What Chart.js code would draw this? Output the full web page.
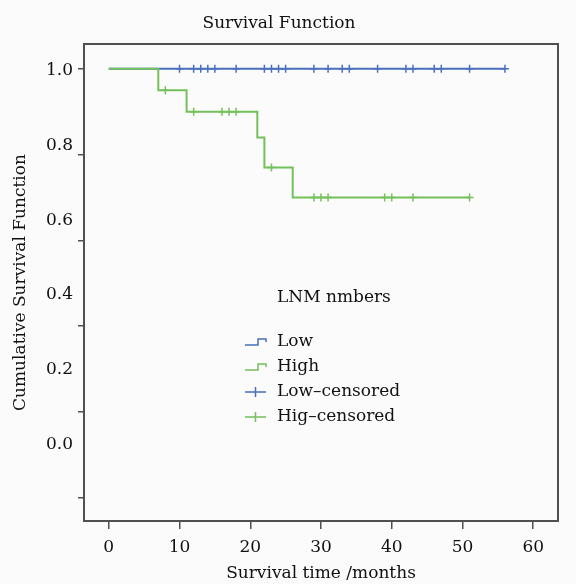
<!DOCTYPE html>
<html lang="en">
<head>
<meta charset="UTF-8">
<title>Survival Function</title>
<script src="https://cdn.jsdelivr.net/npm/chart.js"></script>
<style>
  html, body { margin: 0; padding: 0; background: #fbfbfb; }
  canvas { display: block; }
</style>
</head>
<body>
<canvas id="km" width="576" height="584"></canvas>
<script>
// Kaplan-Meier steps
const lowTimes = [0, 56];
const lowSurv = [1.0, 1.0];
const highTimes = [0, 7, 11, 21, 22, 26, 51];
const highSurv = [1.0, 0.95, 0.90, 0.84, 0.77, 0.70, 0.70];

// censored cases (the little + marks)
const lowCensorTimes = [10, 12, 13, 14, 15, 18, 22, 23, 24, 25, 29, 31, 33, 34, 38, 42, 43, 46, 47, 51, 56];
const lowCensorSurv = [1, 1, 1, 1, 1, 1, 1, 1, 1, 1, 1, 1, 1, 1, 1, 1, 1, 1, 1, 1, 1];
const highCensorTimes = [8, 12, 16, 17, 18, 23, 29, 30, 31, 39, 40, 43, 51];
const highCensorSurv = [0.95, 0.90, 0.90, 0.90, 0.90, 0.77, 0.70, 0.70, 0.70, 0.70, 0.70, 0.70, 0.70];

const xTicks = [0, 10, 20, 30, 40, 50, 60];
const yTicks = [0, 0.2, 0.4, 0.6, 0.8, 1.0];
const yTickLabels = ['0.0', '0.2', '0.4', '0.6', '0.8', '1.0'];

const legendTitle = 'LNM nmbers';
const legendLabels = ['Low', 'High', 'Low\u2013censored', 'Hig\u2013censored'];

const blue = '#4a6fbe';
const green = '#74c05a';
const ink = '#111111';
const frame = '#505050';
const FONT = '"DejaVu Serif", "Liberation Serif", serif';

Chart.defaults.font.family = FONT;
Chart.defaults.color = ink;

function pairs(xs, ys) {
    return xs.map((x, i) => ({ x: x, y: ys[i] }));
}

// box round the plot area
const framePlugin = {
    id: 'frame',
    afterDatasetsDraw(chart) {
        const { ctx, chartArea: a } = chart;
        ctx.save();
        ctx.strokeStyle = frame;
        ctx.lineWidth = 2;
        ctx.strokeRect(a.left, a.top, a.right - a.left, a.bottom - a.top);
        ctx.restore();
    }
};

// SPSS style legend sitting inside the plot
const legendPlugin = {
    id: 'kmLegend',
    afterDraw(chart) {
        const { ctx, chartArea: a } = chart;
        const x0 = a.left + 161;
        const textX = x0 + 32;
        const colors = [blue, green, blue, green];
        ctx.save();
        ctx.font = '17px ' + FONT;
        ctx.fillStyle = ink;
        ctx.textBaseline = 'middle';
        ctx.fillText(legendTitle, textX, a.top + 254);
        legendLabels.forEach((label, i) => {
            const y = a.top + 298 + i * 25;
            ctx.strokeStyle = colors[i];
            ctx.lineWidth = 1.5;
            ctx.beginPath();
            if (i < 2) {
                ctx.moveTo(x0, y + 3);
                ctx.lineTo(x0 + 13, y + 3);
                ctx.lineTo(x0 + 13, y - 3);
                ctx.lineTo(x0 + 21, y - 3);
                ctx.lineTo(x0 + 21, y);
            } else {
                ctx.moveTo(x0, y);
                ctx.lineTo(x0 + 21, y);
                ctx.moveTo(x0 + 10.5, y - 5);
                ctx.lineTo(x0 + 10.5, y + 5);
            }
            ctx.stroke();
            ctx.fillText(label, textX, y);
        });
        ctx.restore();
    }
};

new Chart(document.getElementById('km'), {
    type: 'scatter',
    data: {
        datasets: [
            {
                label: 'High',
                data: pairs(highTimes, highSurv),
                showLine: true,
                stepped: true,
                borderColor: green,
                borderWidth: 2,
                pointRadius: 0,
                order: 1
            },
            {
                label: 'Low',
                data: pairs(lowTimes, lowSurv),
                showLine: true,
                stepped: true,
                borderColor: blue,
                borderWidth: 2,
                pointRadius: 0,
                order: 3
            },
            {
                label: 'Low-censored',
                data: pairs(lowCensorTimes, lowCensorSurv),
                showLine: false,
                pointStyle: 'cross',
                pointRadius: 4,
                borderColor: blue,
                borderWidth: 1.5,
                order: 2
            },
            {
                label: 'Hig-censored',
                data: pairs(highCensorTimes, highCensorSurv),
                showLine: false,
                pointStyle: 'cross',
                pointRadius: 4,
                borderColor: green,
                borderWidth: 1.5,
                order: 0
            }
        ]
    },
    options: {
        responsive: false,
        animation: false,
        layout: { padding: { left: 0, right: 18, top: 0, bottom: 0 } },
        plugins: {
            legend: { display: false },
            tooltip: { enabled: false },
            title: {
                display: true,
                text: 'Survival Function',
                color: ink,
                font: { size: 17, weight: 'normal' },
                padding: { top: 13, bottom: 10.6 }
            }
        },
        scales: {
            x: {
                type: 'linear',
                min: -3.5,
                max: 63.5,
                afterBuildTicks: s => { s.ticks = xTicks.map(v => ({ value: v })); },
                afterFit: s => { s.height = 63; },
                border: { display: false },
                grid: { drawOnChartArea: false, drawTicks: true, tickLength: 8, color: frame, lineWidth: 1.5 },
                ticks: { font: { size: 17 }, color: ink, padding: 8 },
                title: { display: true, text: 'Survival time /months', color: ink, font: { size: 17 }, padding: { top: 0, bottom: 0 } }
            },
            y: {
                position: 'left',
                weight: 0,
                min: -0.055,
                max: 1.058,
                afterBuildTicks: s => { s.ticks = yTicks.map(v => ({ value: v })); },
                afterFit: s => { s.width = 6; },
                border: { display: false },
                grid: { drawOnChartArea: false, drawTicks: true, tickLength: 6, color: frame, lineWidth: 1.5 },
                ticks: { display: false }
            },
            // the printed labels sit on their own spacing, a bit off the tick marks
            yLabels: {
                position: 'left',
                weight: 1,
                min: -0.205,
                max: 1.072,
                afterBuildTicks: s => { s.ticks = yTicks.map(v => ({ value: v })); },
                afterFit: s => { s.width = 78; },
                border: { display: false },
                grid: { display: false, drawTicks: false },
                ticks: {
                    font: { size: 17 },
                    color: ink,
                    padding: 5,
                    callback: (v, i) => yTickLabels[i]
                },
                title: { display: true, text: 'Cumulative Survival Function', color: ink, font: { size: 17 }, padding: { top: 10, bottom: 0 } }
            }
        }
    },
    plugins: [framePlugin, legendPlugin]
});
</script>
</body>
</html>
